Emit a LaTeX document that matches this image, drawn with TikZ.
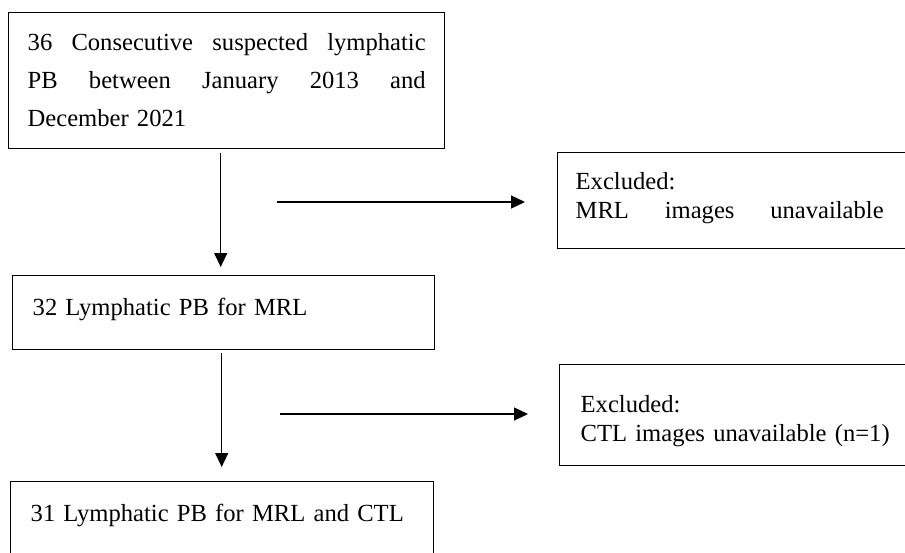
\documentclass[tikz,border=0pt]{standalone}
\usepackage{fontspec}
\setmainfont{Liberation Serif}
\usetikzlibrary{arrows.meta}

\begin{document}
\begin{tikzpicture}[x=1pt,y=-1pt]
\tikzstyle{boite}=[rectangle,draw,line width=1.4pt,anchor=north west,inner ysep=0pt,align=left,font=\fontsize{24.6}{38}\selectfont]
\tikzstyle{exclu}=[boite,font=\fontsize{24.6}{29}\selectfont]
\tikzstyle{fleche}=[-{Triangle[length=14pt,width=13pt]},line width=1.3pt]
\useasboundingbox (0,0) rectangle (905,552);
\clip (0,0) rectangle (905,552);
\node[boite,inner xsep=19pt,text width=398pt,text height=38pt,text depth=98pt] (cohorte) at (8,12) {\makebox[398pt][s]{36\hfill Consecutive\hfill suspected\hfill lymphatic}\\\makebox[398pt][s]{PB\hfill between\hfill January\hfill 2013\hfill and}\\December 2021};
\node[boite,inner xsep=20pt,text width=382pt,text height=40pt,text depth=34pt] (irm) at (12,275) {32 Lymphatic PB for MRL};
\node[boite,inner xsep=20pt,text width=383pt,text height=40pt,text depth=40pt] (ctl) at (10,481) {31 Lymphatic PB for MRL and CTL};
\node[exclu,inner xsep=18pt,text width=360pt,text height=37pt,text depth=59pt] (exclu1) at (557,152) {Excluded:\\\makebox[308pt][s]{MRL\hfill images\hfill unavailable}};
\node[exclu,inner xsep=21pt,text width=360pt,text height=48pt,text depth=53pt] (exclu2) at (559,364) {Excluded:\\CTL images unavailable (n=1)};
%flèches
\coordinate (a1) at ([xshift=-6pt]cohorte.south);
\coordinate (a2) at ([xshift=-2pt]irm.south);
\coordinate (h1) at (277,202);
\coordinate (h2) at (280,414);
\draw[fleche,shorten <=4pt,shorten >=8pt] (a1) -- (a1 |- irm.north);
\draw[fleche,shorten <=3pt,shorten >=14pt] (a2) -- (a2 |- ctl.north);
\draw[fleche,shorten >=32pt] (h1) -- (h1 -| exclu1.west);
\draw[fleche,shorten >=31pt] (h2) -- (h2 -| exclu2.west);
\end{tikzpicture}
\end{document}
